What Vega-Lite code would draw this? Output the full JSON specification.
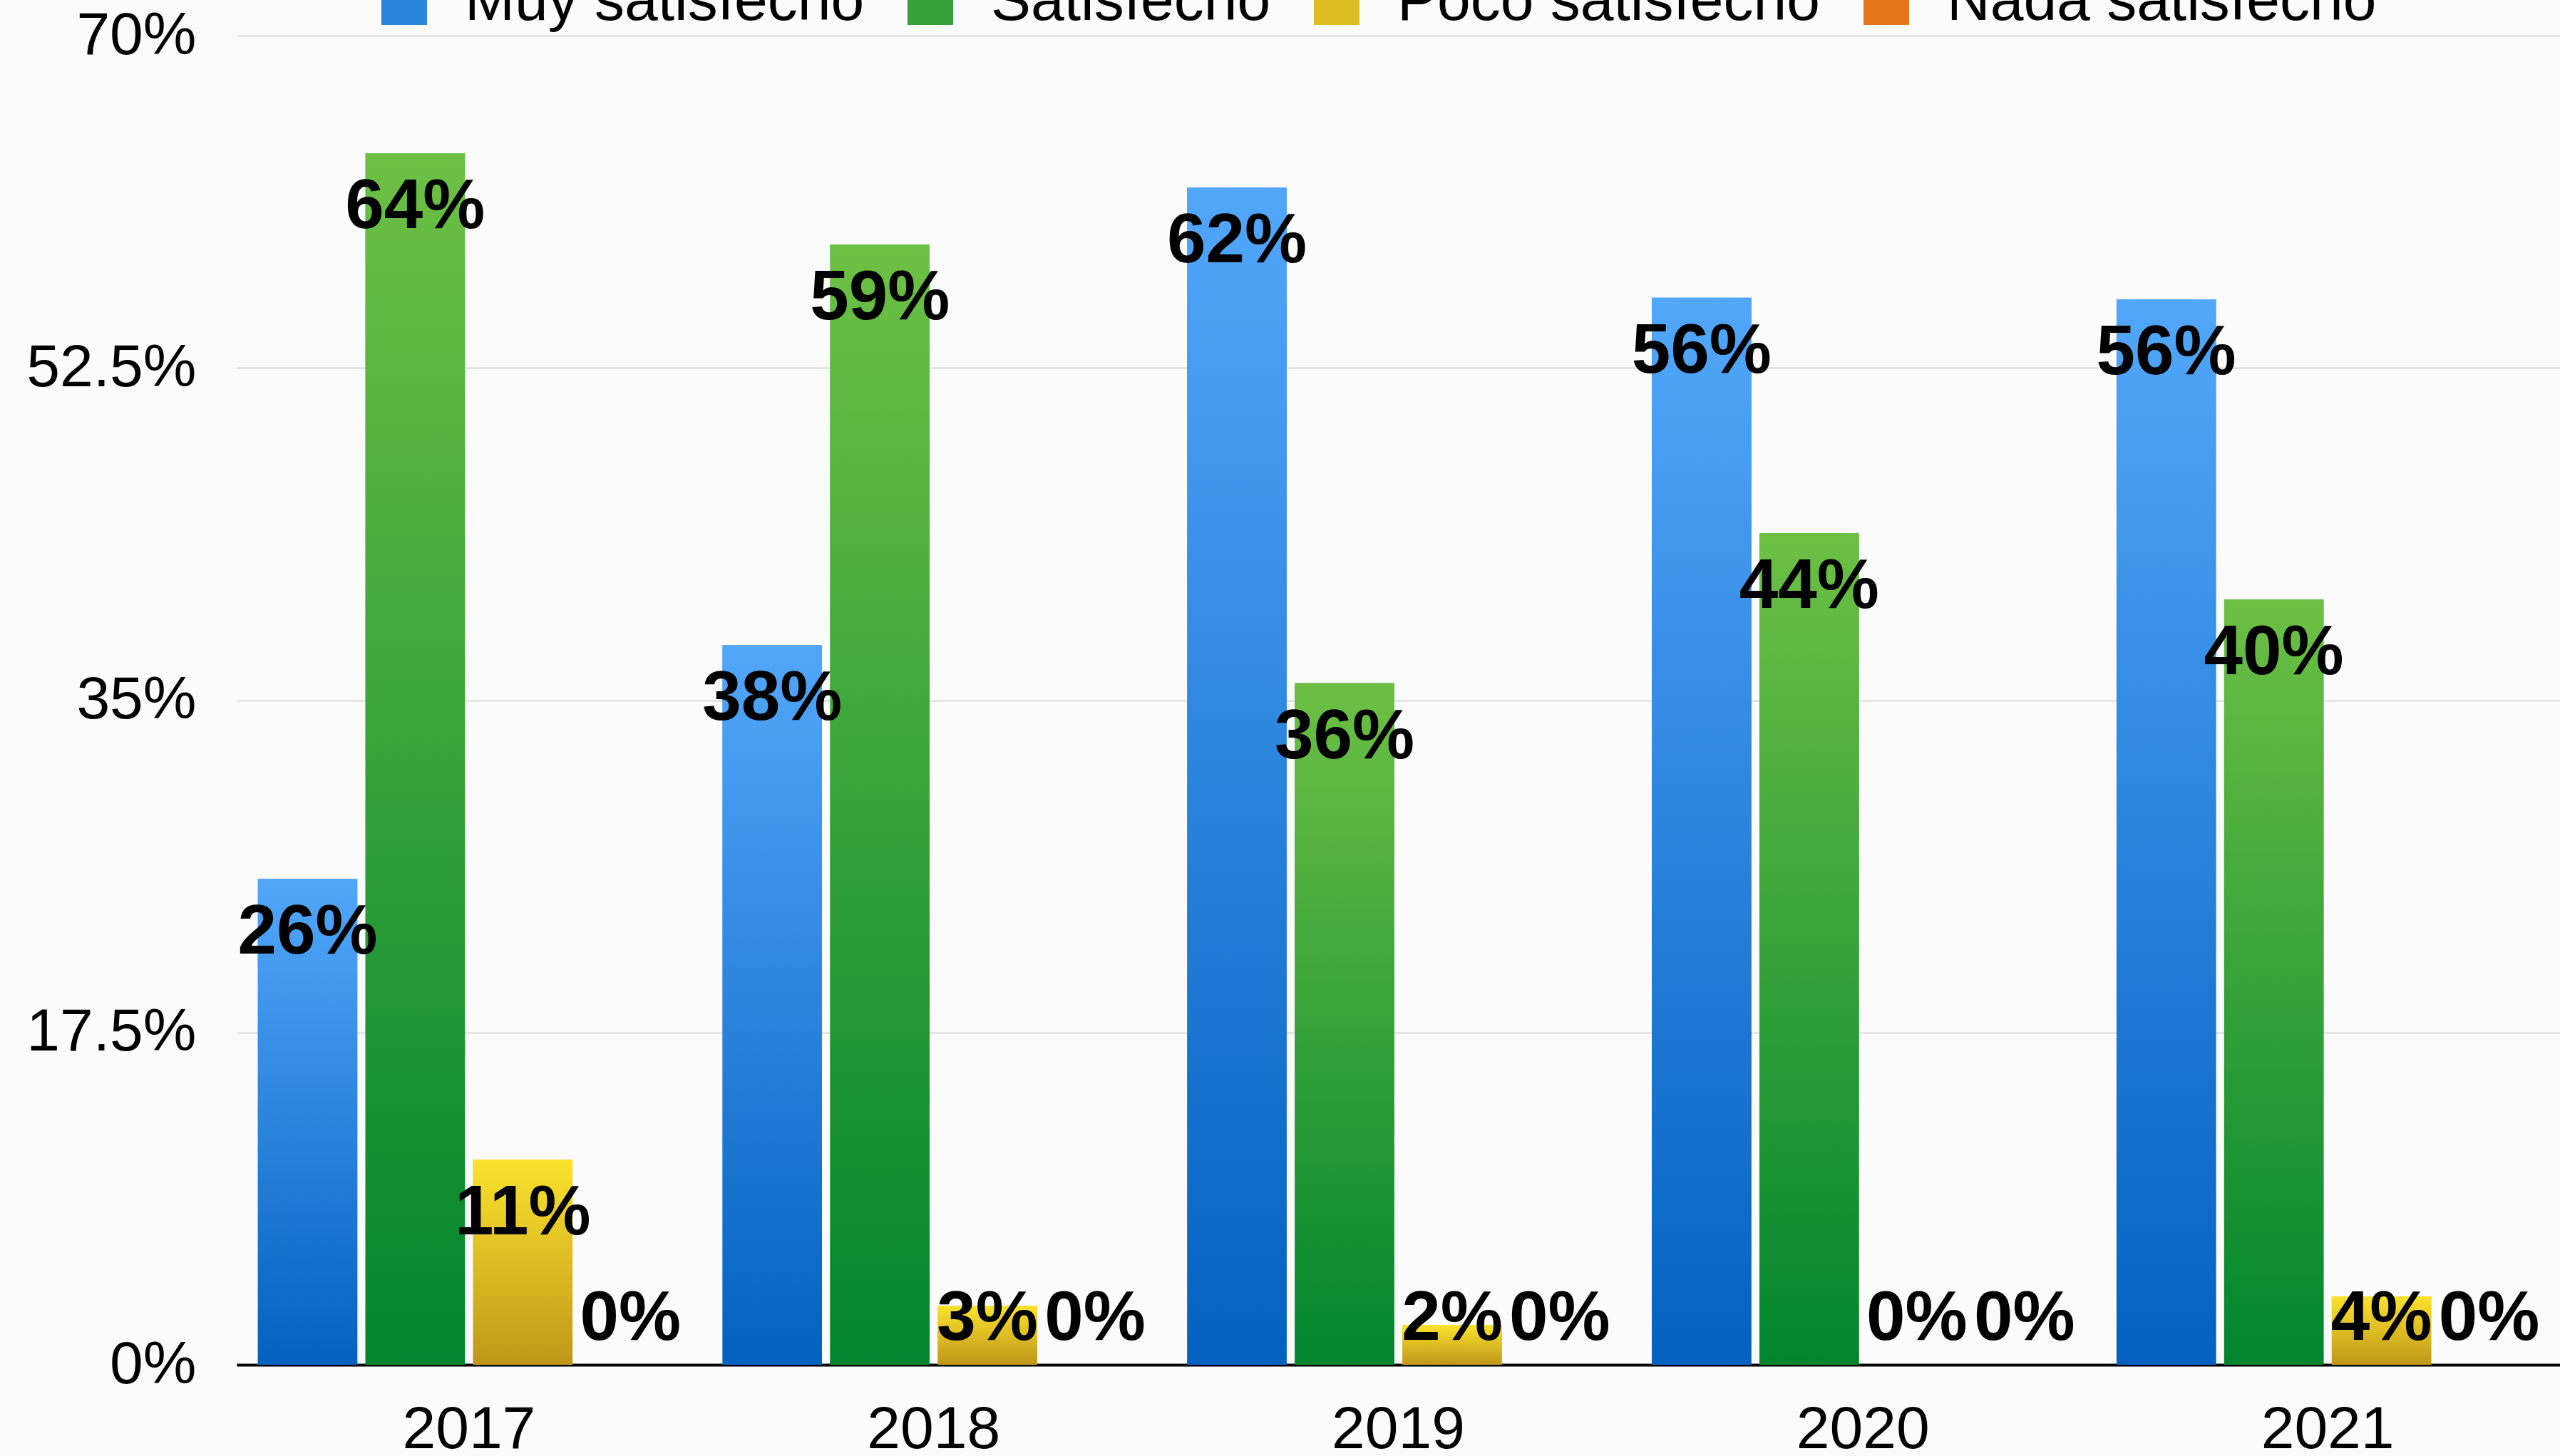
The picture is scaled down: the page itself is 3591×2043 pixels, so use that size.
{
  "$schema": "https://vega.github.io/schema/vega-lite/v6.json",
  "width": 3259,
  "height": 1865,
  "autosize": {"type": "none"},
  "padding": {"left": 332, "top": 50, "right": 0, "bottom": 128},
  "background": "#fbfbfc",
  "config": {"view": {"stroke": null}, "font": "Liberation Sans"},
  "data": {
    "values": [
      {"year": "2017", "cat": "Muy satisfecho", "value": 0.256},
      {"year": "2017", "cat": "Satisfecho", "value": 0.638},
      {"year": "2017", "cat": "Poco satisfecho", "value": 0.108},
      {"year": "2017", "cat": "Nada satisfecho", "value": 0},
      {"year": "2018", "cat": "Muy satisfecho", "value": 0.379},
      {"year": "2018", "cat": "Satisfecho", "value": 0.590},
      {"year": "2018", "cat": "Poco satisfecho", "value": 0.031},
      {"year": "2018", "cat": "Nada satisfecho", "value": 0},
      {"year": "2019", "cat": "Muy satisfecho", "value": 0.620},
      {"year": "2019", "cat": "Satisfecho", "value": 0.359},
      {"year": "2019", "cat": "Poco satisfecho", "value": 0.021},
      {"year": "2019", "cat": "Nada satisfecho", "value": 0},
      {"year": "2020", "cat": "Muy satisfecho", "value": 0.562},
      {"year": "2020", "cat": "Satisfecho", "value": 0.438},
      {"year": "2020", "cat": "Poco satisfecho", "value": 0},
      {"year": "2020", "cat": "Nada satisfecho", "value": 0},
      {"year": "2021", "cat": "Muy satisfecho", "value": 0.561},
      {"year": "2021", "cat": "Satisfecho", "value": 0.403},
      {"year": "2021", "cat": "Poco satisfecho", "value": 0.036},
      {"year": "2021", "cat": "Nada satisfecho", "value": 0}
    ]
  },
  "encoding": {
    "x": {
      "field": "year", "type": "nominal",
      "scale": {"paddingInner": 0, "paddingOuter": 0},
      "axis": {
        "title": null, "labelAngle": 0, "labelFontSize": 84, "labelColor": "#000000", "labelLimit": 0,
        "ticks": false, "domainColor": "#000000", "domainWidth": 4, "labelPadding": 50, "grid": false
      }
    },
    "xOffset": {
      "field": "cat", "type": "nominal",
      "sort": ["Muy satisfecho", "Satisfecho", "Poco satisfecho", "Nada satisfecho"],
      "scale": {"paddingInner": 0.076, "paddingOuter": 0.197}
    },
    "y": {
      "field": "value", "type": "quantitative",
      "scale": {"domain": [0, 0.7], "nice": false},
      "axis": {
        "title": null, "values": [0, 0.175, 0.35, 0.525, 0.7], "format": ".1~%",
        "labelFontSize": 84, "labelColor": "#000000", "labelLimit": 0, "domain": false, "ticks": false,
        "grid": true, "gridColor": "#dadada", "gridWidth": 2, "labelPadding": 57
      }
    }
  },
  "layer": [
    {
      "mark": {"type": "bar"},
      "encoding": {
        "color": {
          "field": "cat", "type": "nominal",
          "scale": {
            "domain": ["Muy satisfecho", "Satisfecho", "Poco satisfecho", "Nada satisfecho"],
            "range": ["#2b84dc", "#36a23a", "#dcbd22", "#e57519"]
          },
          "legend": {
            "title": null, "orient": "none", "legendX": 193, "legendY": -89, "direction": "horizontal",
            "symbolType": "square", "symbolSize": 4096, "symbolStrokeWidth": 0, "symbolOpacity": 1,
            "labelFontSize": 84, "labelColor": "#000000", "labelOffset": 43, "columnPadding": 50,
            "padding": 0, "labelLimit": 1000
          }
        }
      }
    },
    {
      "transform": [{"filter": "datum.cat === 'Muy satisfecho'"}],
      "mark": {"type": "bar", "color": {"gradient": "linear", "x1": 0, "y1": 0, "x2": 0, "y2": 1, "stops": [{"offset": 0, "color": "#52a7f9"}, {"offset": 1, "color": "#0461c0"}]}},
      "encoding": {}
    },
    {
      "transform": [{"filter": "datum.cat === 'Satisfecho'"}],
      "mark": {"type": "bar", "color": {"gradient": "linear", "x1": 0, "y1": 0, "x2": 0, "y2": 1, "stops": [{"offset": 0, "color": "#6dc044"}, {"offset": 1, "color": "#00852e"}]}},
      "encoding": {}
    },
    {
      "transform": [{"filter": "datum.cat === 'Poco satisfecho'"}],
      "mark": {"type": "bar", "color": {"gradient": "linear", "x1": 0, "y1": 0, "x2": 0, "y2": 1, "stops": [{"offset": 0, "color": "#fbe22d"}, {"offset": 1, "color": "#bf9719"}]}},
      "encoding": {}
    },
    {
      "transform": [{"filter": "datum.value >= 0.05"}],
      "mark": {"type": "text", "dy": 76, "fontSize": 98, "fontWeight": "bold", "baseline": "middle", "align": "center", "color": "#000000"},
      "encoding": {
        "text": {"field": "value", "type": "quantitative", "format": ".0%"}
      }
    },
    {
      "transform": [{"filter": "datum.value < 0.05"}],
      "mark": {"type": "text", "fontSize": 98, "fontWeight": "bold", "baseline": "middle", "align": "center", "color": "#000000"},
      "encoding": {
        "y": {"datum": 0.024, "type": "quantitative"},
        "text": {"field": "value", "type": "quantitative", "format": ".0%"}
      }
    }
  ]
}
